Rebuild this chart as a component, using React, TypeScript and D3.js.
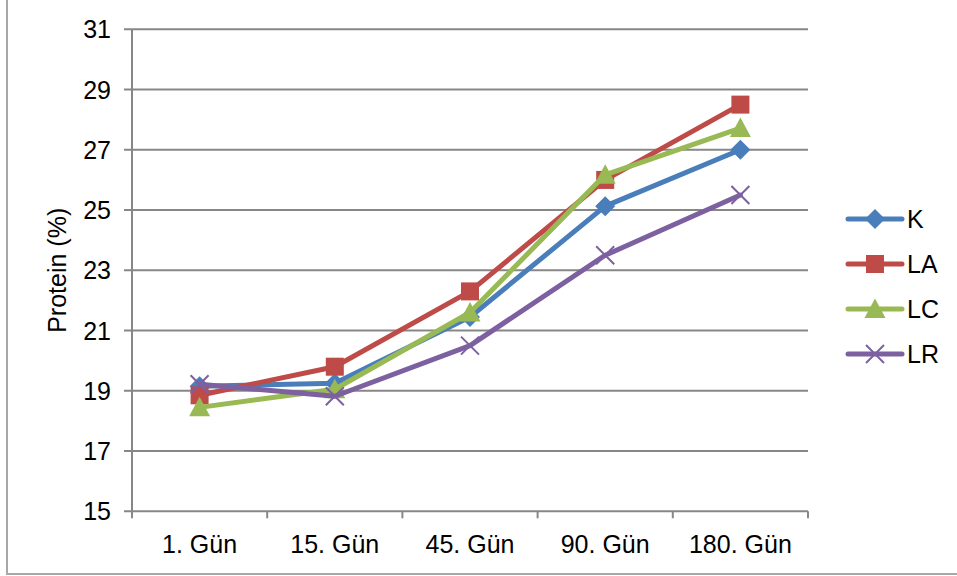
import React from "react";
import * as d3 from "d3";

const categories = ["1. Gün", "15. Gün", "45. Gün", "90. Gün", "180. Gün"];
const seriesNames = ["K", "LA", "LC", "LR"];
const kValues = [19.15, 19.25, 21.45, 25.13, 27.0];
const laValues = [18.85, 19.8, 22.3, 26.0, 28.5];
const lcValues = [18.45, 19.05, 21.6, 26.17, 27.72];
const lrValues = [19.22, 18.82, 20.5, 23.5, 25.5];
const yTicks = [15, 17, 19, 21, 23, 25, 27, 29, 31];
const colors = ["#4a7ebb", "#be4b48", "#98b954", "#7d60a0"];
const markerKinds = ["diamond", "square", "triangle", "cross"];

const W = 957;
const H = 576;
const FONT = "'Liberation Sans', Arial, sans-serif";

function Marker({ kind, x, y, color }: { kind: string; x: number; y: number; color: string }) {
  if (kind === "diamond") {
    const s = 10;
    return <path d={`M${x},${y - s}L${x + s},${y}L${x},${y + s}L${x - s},${y}Z`} fill={color} />;
  }
  if (kind === "square") {
    const s = 9;
    return <rect x={x - s} y={y - s} width={s * 2} height={s * 2} fill={color} />;
  }
  if (kind === "triangle") {
    const s = 10.5;
    return <path d={`M${x},${y - s}L${x + s},${y + s * 0.85}L${x - s},${y + s * 0.85}Z`} fill={color} />;
  }
  const s = 9;
  return (
    <path
      d={`M${x - s},${y - s}L${x + s},${y + s}M${x - s},${y + s}L${x + s},${y - s}`}
      stroke={color}
      strokeWidth={2}
      fill="none"
    />
  );
}

export default function App() {
  const series = [kValues, laValues, lcValues, lrValues];
  const x = d3.scaleBand<string>().domain(categories).range([132, 808]);
  const y = d3.scaleLinear().domain([15, 31]).range([511.3, 29.3]);
  const cx = (c: string) => (x(c) as number) + x.bandwidth() / 2;
  const line = d3
    .line<number>()
    .x((_, i) => cx(categories[i]))
    .y((v) => y(v));

  const grid = "#878787";
  const boundaries = [...categories.map((c) => x(c) as number), 808];

  return (
    <svg
      width={W}
      height={H}
      style={{ position: "absolute", left: 0, top: 0, background: "#fff" }}
      fontFamily={FONT}
    >
      <rect x={7} y={-1} width={W + 10} height={575} fill="#fff" stroke="#a8a8a8" strokeWidth={2} />

      {yTicks.map((t) => (
        <g key={t}>
          <line x1={124} x2={808} y1={y(t)} y2={y(t)} stroke={grid} strokeWidth={2} />
          <text x={111} y={y(t)} textAnchor="end" dominantBaseline="central" fontSize={25} fill="#000">
            {t}
          </text>
        </g>
      ))}
      <line x1={132} x2={132} y1={y(31)} y2={y(15)} stroke={grid} strokeWidth={2} />
      {boundaries.map((b, i) => (
        <line key={i} x1={b} x2={b} y1={y(15)} y2={y(15) + 7} stroke={grid} strokeWidth={2} />
      ))}
      {categories.map((c) => (
        <text key={c} x={cx(c)} y={544} textAnchor="middle" dominantBaseline="central" fontSize={25} fill="#000">
          {c}
        </text>
      ))}
      <text
        transform={`translate(57,${y(23)}) rotate(-90)`}
        textAnchor="middle"
        dominantBaseline="central"
        fontSize={25}
        fill="#000"
      >
        Protein (%)
      </text>

      {series.map((vals, si) => (
        <g key={seriesNames[si]}>
          <path
            d={line(vals) || ""}
            fill="none"
            stroke={colors[si]}
            strokeWidth={5}
            strokeLinejoin="round"
            strokeLinecap="round"
          />
          {vals.map((v, i) => (
            <Marker key={i} kind={markerKinds[si]} x={cx(categories[i])} y={y(v)} color={colors[si]} />
          ))}
        </g>
      ))}

      {seriesNames.map((n, si) => {
        const ly = 219 + si * 45;
        return (
          <g key={n}>
            <line x1={848} x2={902} y1={ly} y2={ly} stroke={colors[si]} strokeWidth={5} strokeLinecap="round" />
            <Marker kind={markerKinds[si]} x={875} y={ly} color={colors[si]} />
            <text x={907} y={ly} dominantBaseline="central" fontSize={25} fill="#000">
              {n}
            </text>
          </g>
        );
      })}
    </svg>
  );
}
